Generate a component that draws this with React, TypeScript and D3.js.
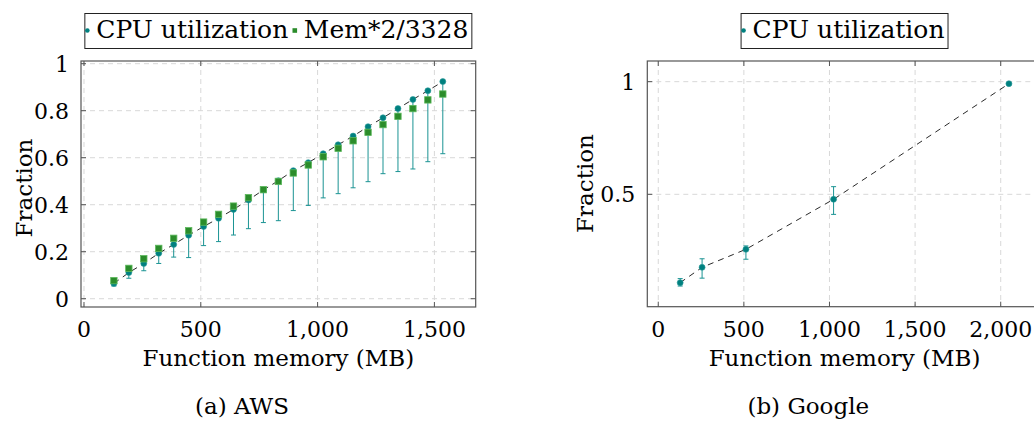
import React, { useEffect, useRef } from 'react';
import * as d3 from 'd3';

// AWS: function memory (MB) vs CPU utilization and memory fraction
const awsMemory = [128, 192, 256, 320, 384, 448, 512, 576, 640, 704, 768, 832, 896, 960, 1024, 1088, 1152, 1216, 1280, 1344, 1408, 1472, 1536];
const awsCpu = [0.065, 0.111, 0.150, 0.193, 0.231, 0.270, 0.307, 0.342, 0.380, 0.420, 0.463, 0.502, 0.545, 0.579, 0.617, 0.655, 0.692, 0.732, 0.770, 0.809, 0.848, 0.885, 0.924];
const awsCpuLow = [0.054, 0.087, 0.119, 0.150, 0.177, 0.175, 0.226, 0.243, 0.271, 0.298, 0.324, 0.332, 0.375, 0.397, 0.429, 0.447, 0.472, 0.498, 0.532, 0.541, 0.552, 0.583, 0.617];
const awsMem = [0.077, 0.129, 0.170, 0.214, 0.257, 0.289, 0.326, 0.359, 0.394, 0.430, 0.464, 0.499, 0.535, 0.569, 0.604, 0.640, 0.672, 0.708, 0.741, 0.776, 0.809, 0.846, 0.871];

// Google
const gcpMemory = [128, 256, 512, 1024, 2048];
const gcpCpu = [0.108, 0.176, 0.256, 0.478, 0.991];
const gcpLow = [0.093, 0.128, 0.212, 0.411, 0.987];
const gcpHigh = [0.126, 0.214, 0.271, 0.534, 0.995];

const awsXTicks = [0, 500, 1000, 1500];
const awsYTicks = [0, 0.2, 0.4, 0.6, 0.8, 1];
const gcpXTicks = [0, 500, 1000, 1500, 2000];
const gcpYTicks = [0.5, 1];

const FONT = '"DejaVu Serif", serif';
const TEAL = '#00807f';
const TEAL_BAR = '#1a9393';
const GREEN = '#2b8c2b';
const GREEN_EDGE = '#5cb85c';

const App = () => {
  const svgRef = useRef<SVGSVGElement>(null);

  useEffect(() => {
    const svg = d3.select(svgRef.current);
    svg.selectAll('*').remove();

    const drawPanel = (p: any) => {
      const x = d3.scaleLinear().domain(p.xDomain).range([p.left, p.right]);
      const y = d3.scaleLinear().domain(p.yDomain).range([p.bottom, p.top]);
      const g = svg.append('g');

      const clipId = 'clip-' + p.id;
      svg.append('clipPath').attr('id', clipId)
        .append('rect').attr('x', p.left).attr('y', p.top)
        .attr('width', p.right - p.left).attr('height', p.bottom - p.top);

      // grid
      g.selectAll('.gx').data(p.xTicks).enter().append('line')
        .attr('x1', (d: number) => x(d)).attr('x2', (d: number) => x(d))
        .attr('y1', p.top).attr('y2', p.bottom)
        .attr('stroke', '#d8d8d8').attr('stroke-dasharray', '5,4');
      g.selectAll('.gy').data(p.yTicks).enter().append('line')
        .attr('y1', (d: number) => y(d)).attr('y2', (d: number) => y(d))
        .attr('x1', p.left).attr('x2', p.right)
        .attr('stroke', '#d8d8d8').attr('stroke-dasharray', '5,4');

      const plot = g.append('g').attr('clip-path', `url(#${clipId})`);

      // dashed line through cpu means
      const line = d3.line<number>().x((d, i) => x(p.mem[i])).y(d => y(d));
      plot.append('path').datum(p.cpu).attr('d', line)
        .attr('fill', 'none').attr('stroke', '#111').attr('stroke-width', 0.9)
        .attr('stroke-dasharray', '6,5');

      // error bars
      p.cpu.forEach((v: number, i: number) => {
        const cx = x(p.mem[i]);
        const hi = p.high ? p.high[i] : v;
        const lo = p.low[i];
        plot.append('line').attr('x1', cx).attr('x2', cx).attr('y1', y(hi)).attr('y2', y(lo))
          .attr('stroke', TEAL_BAR).attr('stroke-width', 1);
        plot.append('line').attr('x1', cx - 2.5).attr('x2', cx + 2.5).attr('y1', y(lo)).attr('y2', y(lo))
          .attr('stroke', TEAL_BAR).attr('stroke-width', 1);
        if (p.high) {
          plot.append('line').attr('x1', cx - 2.5).attr('x2', cx + 2.5).attr('y1', y(hi)).attr('y2', y(hi))
            .attr('stroke', TEAL_BAR).attr('stroke-width', 1);
        }
      });

      plot.selectAll('.cpu').data(p.cpu).enter().append('circle')
        .attr('cx', (d: number, i: number) => x(p.mem[i])).attr('cy', (d: number) => y(d))
        .attr('r', 3).attr('fill', TEAL).attr('stroke', '#2a9a9a').attr('stroke-width', 0.6);

      if (p.memFrac) {
        plot.selectAll('.mem').data(p.memFrac).enter().append('rect')
          .attr('x', (d: number, i: number) => x(p.mem[i]) - 3.2).attr('y', (d: number) => y(d) - 3.2)
          .attr('width', 6.4).attr('height', 6.4)
          .attr('fill', GREEN).attr('stroke', GREEN_EDGE).attr('stroke-width', 0.8);
      }

      // frame + ticks
      g.append('rect').attr('x', p.left).attr('y', p.top)
        .attr('width', p.right - p.left).attr('height', p.bottom - p.top)
        .attr('fill', 'none').attr('stroke', '#555').attr('stroke-width', 1.2);
      const tl = 5;
      p.xTicks.forEach((t: number) => {
        g.append('line').attr('x1', x(t)).attr('x2', x(t)).attr('y1', p.bottom).attr('y2', p.bottom - tl)
          .attr('stroke', '#555').attr('stroke-width', 1);
        g.append('line').attr('x1', x(t)).attr('x2', x(t)).attr('y1', p.top).attr('y2', p.top + tl)
          .attr('stroke', '#555').attr('stroke-width', 1);
      });
      p.yTicks.forEach((t: number) => {
        g.append('line').attr('y1', y(t)).attr('y2', y(t)).attr('x1', p.left).attr('x2', p.left + tl)
          .attr('stroke', '#555').attr('stroke-width', 1);
        g.append('line').attr('y1', y(t)).attr('y2', y(t)).attr('x1', p.right).attr('x2', p.right - tl)
          .attr('stroke', '#555').attr('stroke-width', 1);
      });

      // tick labels
      const fx = d3.format(',');
      g.selectAll('.xl').data(p.xTicks).enter().append('text')
        .attr('x', (d: number) => x(d)).attr('y', 336.5)
        .attr('text-anchor', 'middle').style('font-family', FONT).style('font-size', '22px')
        .text((d: number) => fx(d));
      g.selectAll('.yl').data(p.yTicks).enter().append('text')
        .attr('x', p.left - 12).attr('y', (d: number) => y(d)).attr('dy', '0.36em')
        .attr('text-anchor', 'end').style('font-family', FONT).style('font-size', '22px')
        .text((d: number) => d3.format('~g')(d));

      // axis titles
      g.append('text').attr('x', (p.left + p.right) / 2).attr('y', 365.5)
        .attr('text-anchor', 'middle').style('font-family', FONT).style('font-size', '23px')
        .text('Function memory (MB)');
      g.append('text').attr('transform', `translate(${p.yTitleX},${p.yTitleY}) rotate(-90)`)
        .attr('text-anchor', 'middle').style('font-family', FONT).style('font-size', '23px')
        .text('Fraction');
      g.append('text').attr('x', p.captionX).attr('y', 414)
        .attr('text-anchor', 'middle').style('font-family', FONT).style('font-size', '23px')
        .text(p.caption);

      // legend
      const lg = svg.append('g');
      const box = lg.append('rect');
      const cx = (p.left + p.right) / 2;
      let pos = 0;
      const items: any[] = [];
      p.legend.forEach((it: any) => {
        const markerX = pos + (items.length === 0 ? 2.5 : 6.5);
        const tx = lg.append('text').attr('y', 37.5)
          .style('font-family', FONT).style('font-size', '25px').text(it.label);
        const w = (tx.node() as SVGTextElement).getComputedTextLength();
        items.push({ ...it, markerX, textX: markerX + 9, tx });
        pos = markerX + 9 + w;
      });
      const total = pos + 3.5;
      const left = cx - total / 2;
      box.attr('x', left).attr('y', 13.5).attr('width', total).attr('height', 35)
        .attr('fill', 'white').attr('stroke', '#222').attr('stroke-width', 1);
      items.forEach(it => {
        it.tx.attr('x', left + it.textX);
        if (it.kind === 'circle') {
          lg.append('circle').attr('cx', left + it.markerX).attr('cy', 30.5).attr('r', 2.3).attr('fill', TEAL);
        } else {
          lg.append('rect').attr('x', left + it.markerX - 2.3).attr('y', 30.5 - 2.3)
            .attr('width', 4.6).attr('height', 4.6).attr('fill', GREEN);
        }
      });
    };

    drawPanel({
      id: 'aws', left: 81, right: 475.7, top: 61, bottom: 307,
      xDomain: [-12.8, 1676.8], yDomain: [-0.0353, 1.0115],
      xTicks: awsXTicks, yTicks: awsYTicks,
      mem: awsMemory, cpu: awsCpu, low: awsCpuLow, high: null, memFrac: awsMem,
      yTitleX: 32, yTitleY: 188, caption: '(a) AWS', captionX: 242,
      legend: [{ kind: 'circle', label: 'CPU utilization' }, { kind: 'square', label: 'Mem*2/3328' }],
    });
    drawPanel({
      id: 'gcp', left: 647.3, right: 1041.8, top: 61, bottom: 306.7,
      xDomain: [-64, 2240], yDomain: [0.0013, 1.0917],
      xTicks: gcpXTicks, yTicks: gcpYTicks,
      mem: gcpMemory, cpu: gcpCpu, low: gcpLow, high: gcpHigh, memFrac: null,
      yTitleX: 593, yTitleY: 183.5, caption: '(b) Google', captionX: 808.3,
      legend: [{ kind: 'circle', label: 'CPU utilization' }],
    });
  }, []);

  return (
    <div style={{ position: 'absolute', left: 0, top: 0 }}>
      <svg ref={svgRef} width={1034} height={421} style={{ display: 'block', background: 'white' }} />
    </div>
  );
};

export default App;
